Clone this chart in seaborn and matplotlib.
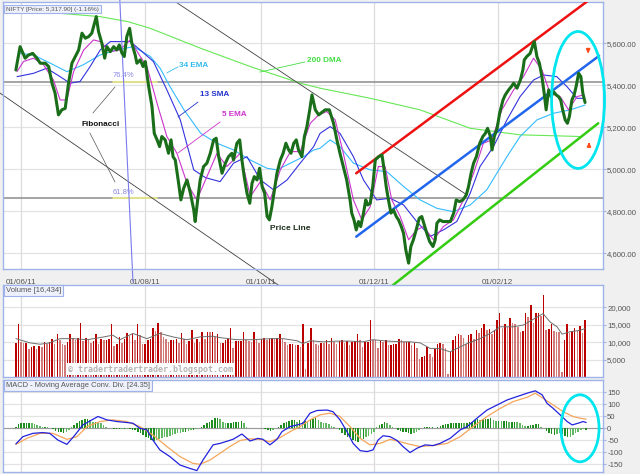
import numpy as np
import pandas as pd
import seaborn as sns
import matplotlib.pyplot as plt
from matplotlib.patches import Ellipse

# ---- values; x = trading sessions from the first bar ----
date_pos = [2, 46, 87.5, 128, 172]
date_labels = ['01/06/11', '01/08/11', '01/10/11', '01/12/11', '01/02/12']

price_day = [0, 1.5, 3.3, 4.5, 6, 7.5, 8.7, 10.5, 11.7, 12.9, 14, 15.2, 16.4, 17.6, 18.8, 20, 21.2, 22.4,
             23.6, 24.8, 26, 27.1, 28.7, 29.5, 30.7, 31.7, 32.5, 33.7, 34.9, 36, 36.9, 37.9, 38.7, 39.6,
             40.6, 41.4, 42.6, 43.2, 44.4, 45.4, 46.2, 47.4, 48.6, 49.4, 50.4, 51.3, 52.1, 53.3, 54.5,
             55.4, 56.1, 56.9, 58.1, 58.9, 59.9, 61.1, 62.3, 63.5, 64.0, 64.9, 65.8, 67, 68.2, 69.4, 70.6,
             71.5, 72.4, 73.6, 74.8, 75.9, 77.1, 77.7, 78.9, 79.9, 80.7, 81.5, 82.5, 83.5, 84.3, 85.1,
             86.1, 87, 87.9, 88.8, 89.7, 90.5, 91.4, 92.3, 93.2, 94.4, 95.4, 96.4, 97.4, 98.2, 99.2,
             100.1, 100.9, 102.1, 103, 103.9, 104.9, 105.7, 106.9, 108.1, 110.4, 111.9, 113.4, 114.6,
             115.7, 116.9, 118.1, 119.3, 119.9, 120.7, 121.5, 122.3, 123.1, 124.1, 124.9, 125.6, 126.5,
             127.4, 128.3, 129.5, 130.7, 131.3, 132.2, 133, 133.9, 134.8, 135.8, 136.6, 137.6, 138.4,
             139.2, 140.2, 141, 141.9, 142.9, 144, 144.9, 145.8, 146.7, 147.7, 148.9, 149.7, 150.3,
             151.3, 152.4, 153.9, 155.1, 156.3, 157.2, 158.4, 159.6, 160.8, 161.6, 162.5, 163.4, 164.4,
             165.6, 166.7, 167.6, 168.4, 169.4, 170, 170.8, 171.8, 172.7, 173.9, 174.7, 175.9, 176.9,
             177.7, 178.9, 180.1, 181, 181.5, 182.4, 183.6, 184.6, 185.1, 186, 186.9, 187.8, 188.6,
             189.3, 190.2, 191.1, 191.9, 192.9, 193.7, 194.5, 195.2, 196.1, 196.9, 197.6, 198.5, 199.3,
             200, 200.9, 201.7, 202.4, 203.2]
price_close = [5473, 5584, 5529, 5544, 5552, 5529, 5505, 5505, 5489, 5410, 5362, 5259, 5283, 5290, 5410,
               5505, 5537, 5568, 5648, 5624, 5632, 5648, 5727, 5656, 5600, 5529, 5584, 5560, 5584, 5568,
               5592, 5552, 5537, 5632, 5671, 5600, 5544, 5505, 5521, 5489, 5513, 5394, 5298, 5171, 5140,
               5108, 5156, 5140, 5076, 5140, 5060, 5044, 4933, 4854, 4910, 4949, 4886, 4806, 4751, 4854,
               4949, 5013, 5029, 5076, 5140, 5148, 5060, 4981, 5029, 5060, 5076, 5044, 5124, 5140, 5044,
               4965, 4886, 4838, 4933, 4965, 4949, 5005, 4918, 4886, 4775, 4759, 4822, 4902, 4981, 5044,
               5076, 5124, 5092, 5076, 5124, 5140, 5092, 5060, 5156, 5203, 5283, 5354, 5283, 5259, 5283,
               5283, 5219, 5140, 5076, 5013, 4949, 4854, 4791, 4759, 4711, 4751, 4727, 4791, 4854, 4830,
               4838, 4918, 5044, 5060, 5068, 5013, 4918, 4854, 4791, 4806, 4775, 4759, 4727, 4695, 4616,
               4553, 4632, 4664, 4711, 4767, 4775, 4735, 4695, 4656, 4632, 4664, 4743, 4759, 4751, 4751,
               4751, 4791, 4854, 4846, 4854, 4878, 4918, 4981, 5029, 5060, 5124, 5156, 5171, 5195, 5156,
               5092, 5156, 5195, 5267, 5330, 5354, 5378, 5394, 5410, 5386, 5425, 5473, 5521, 5537, 5552,
               5592, 5608, 5537, 5505, 5441, 5362, 5283, 5378, 5346, 5370, 5354, 5346, 5330, 5283, 5235,
               5219, 5251, 5330, 5354, 5394, 5457, 5441, 5362, 5318]

ema5_day = [0.4, 2.7, 6.3, 9.9, 13.4, 15.8, 18.2, 20.6, 24.2, 27.7, 30.1, 33.7, 37, 40.8, 44.4, 46.8,
            50.4, 53.9, 57.5, 61.1, 64.6, 68.2, 71.8, 75.3, 80.1, 83.7, 87.3, 90.8, 94.4, 98, 101.5,
            105.1, 108.1, 111, 114, 116.9, 120.5, 123.5, 126.5, 129.4, 131.8, 134.2, 137.2, 140.2,
            143.1, 145.5, 149.1, 152.6, 156.2, 159.8, 163.4, 166.9, 169.9, 173.5, 177.7, 181.2, 184.8,
            187.8, 190.7, 194.3, 197.3, 200.3, 202.6]
ema5 = [5465, 5513, 5529, 5497, 5425, 5330, 5330, 5465, 5568, 5616, 5608, 5560, 5568, 5616, 5537, 5489,
        5314, 5156, 5076, 4933, 4854, 4965, 5076, 5013, 5076, 4870, 4941, 4854, 4997, 5084, 5084, 5219,
        5259, 5275, 5235, 5076, 4854, 4759, 4822, 5013, 5013, 4854, 4775, 4664, 4711, 4727, 4664, 4727,
        4759, 4854, 4981, 5124, 5140, 5283, 5378, 5441, 5529, 5473, 5362, 5346, 5283, 5346, 5354]

sma13_day = [0.4, 6.3, 11, 15.8, 19.3, 22.9, 26.5, 30.1, 33.7, 37, 40.8, 44.4, 49.1, 53.9, 58.7, 63.5,
             67.7, 72.9, 77.7, 82.5, 87.3, 92, 96.8, 101.5, 106.3, 108.6, 112.2, 115.7, 120.5, 124.1,
             128.8, 133.6, 138.4, 143.1, 147.9, 152.6, 157.4, 162.2, 165.7, 170.5, 175.3, 180, 184.8,
             188.4, 193.1, 196.7, 200.3, 202.6]
sma13 = [5441, 5457, 5481, 5441, 5410, 5418, 5489, 5568, 5608, 5608, 5608, 5568, 5513, 5378, 5235, 4997,
         4960, 4941, 5029, 5060, 4949, 4902, 4949, 5029, 5108, 5171, 5203, 5171, 5060, 4949, 4854, 4862,
         4830, 4751, 4680, 4711, 4751, 4886, 5013, 5108, 5235, 5346, 5425, 5449, 5441, 5394, 5338, 5338]

ema34_day = [1.5, 6.3, 12.3, 18.2, 24, 30, 36, 42, 48, 51.5, 55, 60, 66, 71.8, 77.7, 83.7, 89.6, 93.2,
             98, 102.7, 106.3, 108.6, 112.2, 115.7, 120.5, 126.5, 132.4, 138.4, 144.3, 150.3, 156.2,
             162.2, 168.1, 171.7, 175.3, 180, 186, 192, 197.9, 203.2]
ema34 = [5552, 5544, 5505, 5465, 5497, 5544, 5568, 5584, 5537, 5481, 5394, 5283, 5171, 5124, 5092, 5044,
         5005, 4997, 5029, 5060, 5092, 5100, 5140, 5108, 5029, 4997, 4989, 4918, 4854, 4814, 4798, 4830,
         4902, 4981, 5060, 5156, 5235, 5267, 5283, 5306]

dma200_day = [0.4, 11, 30, 40, 48, 66, 83.7, 101.5, 108.6, 126.5, 144.3, 162.2, 180, 201.5]
dma200 = [5759, 5748, 5727, 5703, 5671, 5576, 5489, 5410, 5386, 5338, 5283, 5195, 5164, 5156]

volume = [9800, 15200, 10000, 9800, 9800, 8100, 8600, 8800, 8100, 8800, 8600, 10100, 9600, 10000, 10800,
          9400, 12300, 10700, 9600, 9100, 10100, 12300, 11300, 10600, 11300, 15600, 10400, 11300, 10700,
          9900, 10400, 12300, 9600, 11000, 10700, 10700, 11000, 15200, 8800, 9600, 11500, 9800, 11000,
          12500, 11700, 12300, 10600, 15100, 12000, 9600, 9600, 10700, 11000, 14200, 13200, 15600, 12800,
          11500, 11000, 10100, 10600, 10700, 11000, 9800, 12500, 11000, 9600, 10400, 13400, 9900, 11000,
          10100, 12800, 11000, 13000, 12800, 12800, 11500, 12300,
          9900, 9900, 10600, 11000, 14100, 8200, 10400, 10400, 10400, 12800, 10700, 10400, 10100, 13000,
          10600, 9900, 11000, 11300, 10600, 11000, 11300, 11000, 11300, 12300, 11000, 10100, 9100, 9400,
          9400, 9100, 9100, 8600, 15100, 2400, 9900, 14100, 10600, 9600, 9100, 9900, 9800, 10600, 9400,
          11300, 10100, 9600, 10400, 10600, 9900, 10400, 9100, 10100, 10400, 12300, 10600, 8600, 10100,
          10100, 16300, 10700, 10600, 8200, 10400, 10100, 10600, 9300, 9300, 9400, 9600, 10800, 10700,
          10100, 10100,
          10100, 9100, 9900, 8200, 5100, 5600, 6000, 8600, 6700, 5800, 8000, 9600, 9800, 9600, 8200, 1000,
          7200, 10700, 11700, 12300, 12000, 11300, 9600, 12000, 12300, 11000, 13400, 12700, 14200, 15200,
          13400, 13700, 12300, 13600, 16500, 18500, 14100, 15200, 14400, 17000, 15600, 15100, 14400,
          13000, 13200, 18500, 17300, 20600, 15600, 18400, 18400, 17500, 23500, 13400, 13900, 15200,
          13200, 13000, 12800, 1400, 10700, 15100, 12500, 13200, 14100, 13200, 14600, 12500, 16434]

vol_ma_day = [0, 5, 8.6, 12.1, 15.7, 20.4, 25.4, 30, 34.6, 37.1, 41.8, 46.8, 51.4, 56.1, 61.1, 65.7,
              70.4, 72.9, 78.9, 84.6, 90.7, 95.4, 100.4, 102.5, 105, 109.6, 114.6, 119.3, 123.9, 127.5,
              132.5, 138.2, 140.7, 144.3, 147.9, 151.4, 155, 157.5, 161.1, 165.7, 169.3, 172.9, 177.5,
              181.1, 184.6, 188.2, 190.7, 193.2, 195, 197.9, 201.4, 203.2]
vol_ma = [11000, 9800, 9400, 9800, 11000, 11000, 10700, 11300, 12000, 10700, 12500, 11000, 12500, 11500,
          10700, 11500, 11700, 11300, 10700, 10700, 11000, 11000, 10400, 9600, 10400, 10100, 10300, 10300,
          10100, 10700, 10300, 10100, 10100, 9800, 8200, 8200, 7200, 8200, 9600, 11000, 12500, 14400,
          14400, 14900, 16500, 18200, 15800, 14400, 12300, 13000, 13400, 13900]

macd_day = [0, 2.5, 6.1, 9.6, 12.1, 15, 18.2, 21.1, 23.9, 27.1, 29.3, 32.5, 36.1, 39.6, 41.8, 44.3,
            46.8, 48.9, 51.4, 55, 58.6, 62.1, 64.6, 66.8, 70.4, 72.9, 77.5, 80.7, 83.6, 86.4, 88.2,
            90.7, 93.2, 95, 97.9, 100.4, 102.5, 105, 107.5, 111.1, 113.2, 115.7, 118.2, 120.4, 122.9,
            125.4, 127.5, 129.3, 131.1, 133.6, 136.1, 138.2, 140.7, 143.2, 146.1, 148.9, 151.4, 155,
            158.6, 161.1, 164.6, 168.2, 171.8, 175.4, 178.9, 182.5, 185.4, 187.9, 189.6, 191.8, 194.3,
            196.8, 198.6, 200.7, 202.5, 203.6]
macd = [-65, -35, -21, -18, -21, -49, -67, -28, 14, 35, 49, 35, 28, 24, 21, 0, -7, -49, -90, -118, -153,
        -167, -176, -132, -69, -63, -46, -24, -53, -42, -46, -69, -46, -14, 7, 14, 21, 63, 74, 76, 69,
        35, -14, -63, -93, -97, -90, -49, -31, -35, -51, -76, -101, -83, -69, -72, -63, -42, -7, 7, 42,
        76, 97, 118, 132, 146, 156, 139, 104, 83, 56, 28, 14, 21, 28, 24]

signal_day = [0, 3.9, 8.6, 13.2, 18.2, 21.8, 25.4, 30, 34.6, 39.6, 44.3, 48.9, 53.9, 58.6, 63.2, 65.7,
              69.3, 72.9, 76.4, 80, 83.6, 87.1, 90.7, 94.3, 97.9, 101.4, 105, 108.6, 112.1, 115.7,
              119.3, 122.9, 126.4, 130, 133.6, 137.1, 140.7, 144.3, 148.9, 153.9, 158.6, 163.2, 168.2,
              172.9, 177.5, 182.5, 185.4, 188.2, 191.8, 195.4, 198.9, 201.4, 203.6]
signal = [-67, -42, -21, -21, -46, -35, 7, 28, 35, 28, 7, -28, -76, -118, -146, -150, -132, -104, -76,
          -51, -44, -46, -56, -39, -14, 7, 35, 56, 63, 49, 7, -42, -69, -63, -46, -56, -67, -76, -72,
          -63, -35, 7, 49, 83, 111, 129, 146, 125, 97, 69, 49, 42, 38]

macd_hist = [7, 18, 21, 24, 24, 24, 21, 18, 14, 11, 7, 7, 4, 0, -4, -10, -14, -17, -18, -14, -7, 4, 14,
             24, 32, 35, 38, 38, 35, 28, 28, 24, 21, 14, 7, 0, 0, -3, -3, -4, -3, -4, -1, -4, -7, -7,
             -14, -21, -28, -35, -42, -49, -51, -49, -44, -42, -38, -35, -31, -28, -25, -21, -18, -14,
             -14, -10, -7, -7, -3, 0, 7, 14, 21, 28, 35, 42, 44,
             38, 28, 24, 24, 24, 25, 25, 28, 31, 21, 7, 3, 1, 0, 1, 3, 0, -1, -7, -11, -7, 0, 7, 14, 24,
             28, 31, 35, 35, 28, 35, 28, 32, 28, 35, 38, 42, 35, 28, 24, 21, 17, 10, 7, 0, -7, -18, -28,
             -35, -38, -49, -51, -56, -42, -46, -38, -32, -24, -14, 7, 14, 18, 28, 21, 14, 7, 0, -7, -10,
             -14, -17, -21,
             -24, -21, -14, -7, 0, 4, 7, 7, 7, 3, 7, 11, 14, 17, 18, 21, 21, 21, 24, 24, 21, 24, 28, 28,
             35, 38, 35, 38, 38, 39, 42, 35, 32, 32, 31, 31, 31, 28, 28, 28, 25, 24, 14, 10, 10, 13, 14,
             17, 17, 7, 0, -10, -18, -24, -28, -24, -18, -24, -31, -38, -35, -28, -21, -14, -7, -4, -7]

fib_levels = [5417, 4862]
fib_names = ['76.4%', '61.8%']

EDGE = '#9fb3ea'
LABEL = '#555555'

sns.set_theme(style='white')
plt.rcParams['font.family'] = ['Liberation Sans', 'DejaVu Sans']

fig = plt.figure(figsize=(6.4, 4.74), dpi=100, facecolor='#f0f0f0')
ax = fig.add_axes([3 / 640, 1 - 269 / 474, 600 / 640, 267.3 / 474])
axv = fig.add_axes([3 / 640, 1 - 377 / 474, 600 / 640, 92 / 474])
axm = fig.add_axes([3 / 640, 1 - 472 / 474, 600 / 640, 92 / 474])


def style_panel(a, ylim, yticks, fmt):
    a.set_facecolor('white')
    for s in a.spines.values():
        s.set_color(EDGE)
        s.set_linewidth(1)
    a.set_xlim(-4.6, 209.6)
    a.set_ylim(*ylim)
    a.yaxis.tick_right()
    a.set_yticks(yticks)
    a.set_yticklabels([fmt(v) for v in yticks])
    a.tick_params(axis='y', right=True, left=False, length=2.2, width=0.8, color=EDGE,
                  labelsize=5.6, labelcolor=LABEL, pad=0.8)
    a.set_xticks(date_pos)
    a.tick_params(axis='x', length=0)
    for v in yticks:
        a.axhline(v, color='#e3e3e3', lw=0.9, zorder=0)
    for d in date_pos:
        a.axvline(d, color='#dcdcdc', lw=0.9, zorder=0)
    a.set_xlabel('')
    a.set_ylabel('')


def box_label(a, text, size):
    a.text(0.005, 0.982, text, transform=a.transAxes, ha='left', va='top', fontsize=size,
           color=LABEL, zorder=10,
           bbox=dict(boxstyle='square,pad=0.28', fc='#eef1fb', ec=EDGE, lw=0.8))


# ---- price panel ----
style_panel(ax, (4525, 5798), [4600, 4800, 5000, 5200, 5400, 5600], lambda v: f'{v:,.2f}')
ax.set_xticklabels(date_labels)
ax.tick_params(axis='x', labelsize=5.8, labelcolor=LABEL, pad=7)

for lvl, name in zip(fib_levels, fib_names):
    ax.axhline(lvl, color='#8c8c8c', lw=1.1, zorder=1)
    ax.plot([34.6, 50.4], [lvl, lvl], color='#eeee88', lw=1.2, zorder=1.5)
    ax.text(34.6, lvl + 12, name, fontsize=5.5, color='#8a8ae6', va='bottom', ha='left', zorder=5)

sns.lineplot(x=dma200_day, y=dma200, ax=ax, color='#66e855', lw=0.8, estimator=None, sort=False)
sns.lineplot(x=ema34_day, y=ema34, ax=ax, color='#33bbff', lw=0.8, estimator=None, sort=False)
sns.lineplot(x=sma13_day, y=sma13, ax=ax, color='#3333dd', lw=0.8, estimator=None, sort=False)
sns.lineplot(x=ema5_day, y=ema5, ax=ax, color='#cc33cc', lw=0.8, estimator=None, sort=False)

# drawn trend lines
ax.plot([56, 161], [5806, 4878], color='#404040', lw=0.6, zorder=2)
ax.plot([-5.7, 95.7], [5363, 4430], color='#404040', lw=0.6, zorder=2, clip_on=False)
ax.plot([37.1, 41.8], [5806, 4464], color='#7b7bee', lw=0.8, zorder=2, clip_on=False)
ax.plot([121.5, 203.8], [4981, 5798], color='#ee1111', lw=1.8, zorder=3)
ax.plot([121.5, 208.2], [4679, 5540], color='#2266ee', lw=1.8, zorder=3)
ax.plot([132.9, 207.9], [4430, 5219], color='#33cc11', lw=1.8, zorder=3, clip_on=False)

sns.lineplot(x=price_day, y=price_close, ax=ax, color='#1a6e1a', lw=2.2, estimator=None,
             sort=False, zorder=4)

# annotations
notes = [('34 EMA', 58.2, 5492, '#33bbee', (53.9, 5459), (57.9, 5488)),
         ('13 SMA', 65.7, 5354, '#2233cc', (57.9, 5249), (65.0, 5320)),
         ('5 EMA', 73.6, 5263, '#cc33cc', (57.9, 5078), (72.9, 5225)),
         ('200 DMA', 103.9, 5520, '#44dd44', (87.1, 5463), (103.2, 5511))]
for txt, tx, ty, col, p0, p1 in notes:
    ax.text(tx, ty, txt, color=col, fontsize=5.9, fontweight='bold', va='center', ha='left', zorder=6)
    ax.plot([p0[0], p1[0]], [p0[1], p1[1]], color=col, lw=0.6, zorder=5)

ax.text(23.6, 5211, 'Fibonacci', color='#111111', fontsize=5.9, fontweight='bold', va='center',
        ha='left', zorder=6)
ax.plot([27.5, 35.4], [5268, 5392], color='#555555', lw=0.5, zorder=5)
ax.plot([26.4, 35.4], [5173, 4939], color='#555555', lw=0.5, zorder=5)
ax.text(90.7, 4720, 'Price Line', color='#1d301d', fontsize=6, fontweight='bold', va='center',
        ha='left', zorder=6)

ax.add_patch(Ellipse((200.7, 5330), 18.9, 652, fill=False, ec='#00e5ee', lw=2, zorder=7,
                     clip_on=False))
ax.annotate('', xy=(204.3, 5538), xytext=(204.3, 5582),
            arrowprops=dict(arrowstyle='-|>', color='#ff4a1a', lw=1.3, mutation_scale=5), zorder=7)
ax.annotate('', xy=(204.6, 5142), xytext=(204.6, 5098),
            arrowprops=dict(arrowstyle='-|>', color='#ff4a1a', lw=1.3, mutation_scale=5), zorder=7)
box_label(ax, 'NIFTY [Price: 5,317.90] (-1.16%)', 4.6)

# ---- volume panel ----
style_panel(axv, (0, 26400), [5000, 10000, 15000, 20000], lambda v: f'{v:,}')
axv.tick_params(axis='x', labelbottom=False)
vol_x = np.linspace(0, price_day[-1], len(volume))
vol_col = ['#bb0000' if i == 0 or volume[i] >= volume[i - 1] else '#d27a7a'
           for i in range(len(volume))]
axv.bar(vol_x, volume, width=0.55, color=vol_col, linewidth=0, antialiased=False, zorder=2)
sns.lineplot(x=vol_ma_day, y=vol_ma, ax=axv, color='#6e6e6e', lw=0.7, estimator=None, sort=False,
             zorder=3)
axv.text(0.108, 0.085, '\u00a9 tradertradertrader.blogspot.com', transform=axv.transAxes,
         family='DejaVu Sans Mono', fontsize=6, fontweight='bold', color='#b4b4b4', va='center',
         ha='left', zorder=4, bbox=dict(boxstyle='square,pad=0.15', fc='white', ec='none'))
box_label(axv, 'Volume [16,434]', 5.5)

# ---- MACD panel ----
style_panel(axm, (-182, 201), [-150, -100, -50, 0, 50, 100, 150], lambda v: f'{v}')
axm.tick_params(axis='x', labelbottom=False)
axm.axhline(0, color='#9a9a9a', lw=0.8, zorder=1)
hist_x = np.linspace(0, macd_day[-1], len(macd_hist))
hist_col = ['#1e8c1e' if i == 0 or abs(macd_hist[i]) >= abs(macd_hist[i - 1]) else '#62b862'
            for i in range(len(macd_hist))]
axm.bar(hist_x, macd_hist, width=0.55, color=hist_col, linewidth=0, antialiased=False, zorder=2)
sns.lineplot(x=signal_day, y=signal, ax=axm, color='#f5a55a', lw=0.9, estimator=None, sort=False,
             zorder=3)
sns.lineplot(x=macd_day, y=macd, ax=axm, color='#2222dd', lw=0.9, estimator=None, sort=False,
             zorder=4)
axm.add_patch(Ellipse((201.4, 0), 13.6, 279, fill=False, ec='#00e5ee', lw=2, zorder=6,
                      clip_on=False))
box_label(axm, 'MACD - Moving Average Conv. Div. [24.35]', 5.4)

fig.savefig('out.png', dpi=100, facecolor=fig.get_facecolor())
